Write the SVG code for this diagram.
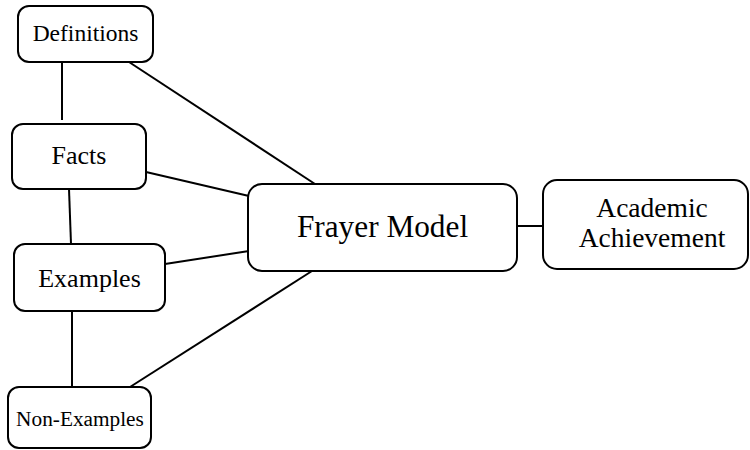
<svg xmlns="http://www.w3.org/2000/svg" width="750" height="450" viewBox="0 0 750 450">
<style>
.box{fill:#fff;stroke:#000;stroke-width:2}
.t{font-family:'Liberation Serif','Times New Roman',Times,'DejaVu Serif',serif;fill:#000;text-anchor:middle}
.c line{stroke:#000;stroke-width:2}
</style>
<rect width="750" height="450" fill="#fff"/>
<g class="c" id="connectors">
<line x1="62" y1="60" x2="62" y2="120"/>
<line x1="129" y1="62" x2="315" y2="184"/>
<line x1="146" y1="172" x2="249" y2="196"/>
<line x1="69" y1="189" x2="71" y2="244"/>
<line x1="165" y1="264" x2="249" y2="251"/>
<line x1="72" y1="311" x2="72" y2="389"/>
<line x1="130" y1="387" x2="312" y2="271"/>
<line x1="517" y1="226" x2="543" y2="226"/>
</g>
<g id="definitions"><rect class="box" x="18" y="6" width="135" height="56" rx="11"/><text class="t" font-family="Liberation Serif, serif" x="85.5" y="41" font-size="23.5">Definitions</text></g>
<g id="facts"><rect class="box" x="12" y="124" width="134" height="65" rx="11"/><text class="t" font-family="Liberation Serif, serif" x="79" y="164" font-size="26">Facts</text></g>
<g id="examples"><rect class="box" x="14" y="244" width="151" height="67" rx="11"/><text class="t" font-family="Liberation Serif, serif" x="89.5" y="287" font-size="26">Examples</text></g>
<g id="non-examples"><rect class="box" x="8" y="387" width="143" height="61" rx="11"/><text class="t" font-family="Liberation Serif, serif" x="80" y="426" font-size="21.3">Non-Examples</text></g>
<g id="frayer-model"><rect class="box" x="248" y="184" width="269" height="87" rx="14"/><text class="t" font-family="Liberation Serif, serif" x="382.5" y="237" font-size="31.3">Frayer Model</text></g>
<g id="academic-achievement"><rect class="box" x="543" y="180" width="205" height="89" rx="14"/><text class="t" font-family="Liberation Serif, serif" x="652" y="217" font-size="27.5">Academic</text><text class="t" font-family="Liberation Serif, serif" x="652" y="247" font-size="27.5">Achievement</text></g>
</svg>
